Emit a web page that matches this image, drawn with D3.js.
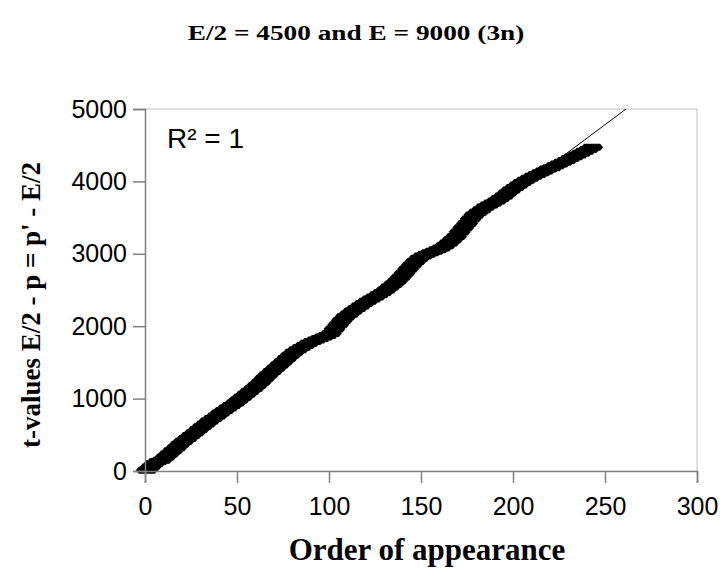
<!DOCTYPE html>
<html>
<head>
<meta charset="utf-8">
<script src="https://cdn.jsdelivr.net/npm/d3@7"></script>
<style>
  body { margin: 0; background: #fff; }
</style>
</head>
<body>
<div id="chart"></div>
<script>
// order of appearance (every second point)
const order = d3.range(1, 244, 2)
// t-values E/2 - p = p' - E/2
const tValues = [
  10, 55, 100, 130, 150, 190, 235, 280, 320, 370,
  410, 450, 490, 530, 570, 610, 650, 690, 725, 760,
  800, 835, 870, 905, 940, 980, 1020, 1060, 1100, 1140,
  1185, 1230, 1280, 1330, 1375, 1420, 1465, 1510, 1555, 1600,
  1640, 1675, 1705, 1735, 1765, 1790, 1810, 1830, 1850, 1870,
  1900, 1960, 2020, 2080, 2130, 2170, 2210, 2245, 2280, 2315,
  2345, 2375, 2405, 2435, 2465, 2500, 2540, 2580, 2625, 2675,
  2730, 2790, 2845, 2895, 2940, 2970, 2995, 3015, 3035, 3055,
  3080, 3110, 3150, 3195, 3240, 3300, 3360, 3420, 3480, 3535,
  3575, 3610, 3645, 3675, 3700, 3730, 3765, 3800, 3840, 3880,
  3915, 3950, 3985, 4015, 4045, 4070, 4095, 4120, 4145, 4170,
  4190, 4215, 4240, 4265, 4290, 4315, 4340, 4365, 4390, 4415,
  4440, 4470
]
const xTicks = [0, 50, 100, 150, 200, 250, 300]
const yTicks = [0, 1000, 2000, 3000, 4000, 5000]

const width = 724
const height = 581
const margin = { left: 145, right: 27, top: 109, bottom: 110 }
const axisColor = '#808080'
const frameColor = '#c0c0c0'
const serif = 'Liberation Serif, Times New Roman, serif'
const sans = 'Liberation Sans, Arial, sans-serif'

const data = order.map((n, i) => ({ n, t: tValues[i] }))

const svg = d3.select('#chart').append('svg')
  .attr('width', width)
  .attr('height', height)

const x = d3.scaleLinear().domain([0, 300]).range([margin.left, width - margin.right])
const y = d3.scaleLinear().domain([0, 5000]).range([height - margin.bottom, margin.top])

svg.append('defs').append('clipPath').attr('id', 'plot')
  .append('rect')
  .attr('x', margin.left - 10).attr('y', margin.top)
  .attr('width', width - margin.right - margin.left + 10)
  .attr('height', height - margin.bottom - margin.top + 10)

// plot frame (top / right in light grey)
svg.append('path')
  .attr('d', `M${x(0)},${y(5000)}H${x(300)}V${y(0)}`)
  .attr('fill', 'none')
  .attr('stroke', frameColor)
  .attr('stroke-width', 1)

// markers - long dashes
const dash = 'M-11,0L-8,-3.5L8,-3.5L11,0L8,3.5L-8,3.5Z'
svg.append('g')
  .selectAll('path')
  .data(data)
  .join('path')
  .attr('d', dash)
  .attr('transform', (d) => `translate(${x(d.n)},${y(d.t)})`)
  .attr('fill', '#000')

// linear trendline
const lr = (() => {
  const mx = d3.mean(data, (d) => d.n)
  const my = d3.mean(data, (d) => d.t)
  const sxy = d3.sum(data, (d) => (d.n - mx) * (d.t - my))
  const sxx = d3.sum(data, (d) => (d.n - mx) ** 2)
  const a = sxy / sxx
  return { a, b: my - a * mx }
})()
const xEnd = (5000 - lr.b) / lr.a
svg.append('line')
  .attr('clip-path', 'url(#plot)')
  .attr('x1', x(data[0].n)).attr('y1', y(lr.a * data[0].n + lr.b))
  .attr('x2', x(xEnd)).attr('y2', y(5000))
  .attr('stroke', '#000')
  .attr('stroke-width', 1)

// axes
const xAxis = svg.append('g')
  .attr('transform', `translate(0,${y(0)})`)
  .call(d3.axisBottom(x).tickValues(xTicks).tickFormat(d3.format('d')).tickSize(12).tickPadding(14))
const yAxis = svg.append('g')
  .attr('transform', `translate(${x(0)},0)`)
  .call(d3.axisLeft(y).tickValues(yTicks).tickFormat(d3.format('d')).tickSize(12).tickPadding(6))

for (const g of [xAxis, yAxis]) {
  g.select('.domain').attr('stroke', axisColor).attr('stroke-width', 1.5)
  g.selectAll('.tick line').attr('stroke', axisColor).attr('stroke-width', 1.5)
  g.selectAll('.tick text')
    .attr('fill', '#000')
    .style('font-family', sans)
    .style('font-size', '25px')
}

// R squared label
svg.append('text')
  .attr('x', 167).attr('y', 148)
  .style('font-family', sans)
  .style('font-size', '28px')
  .text('R² = 1')

// titles
svg.append('text')
  .attr('transform', 'translate(356,40) scale(1.3,1)')
  .attr('text-anchor', 'middle')
  .style('font-family', serif)
  .style('font-weight', 'bold')
  .style('font-size', '21px')
  .text('E/2 = 4500 and E = 9000 (3n)')

svg.append('text')
  .attr('x', 427).attr('y', 560)
  .attr('text-anchor', 'middle')
  .style('font-family', serif)
  .style('font-weight', 'bold')
  .style('font-size', '31px')
  .text('Order of appearance')

svg.append('text')
  .attr('transform', 'translate(40,305) rotate(-90)')
  .attr('text-anchor', 'middle')
  .style('font-family', serif)
  .style('font-weight', 'bold')
  .style('font-size', '27px')
  .text("t-values  E/2 - p = p' - E/2")
</script>
</body>
</html>
